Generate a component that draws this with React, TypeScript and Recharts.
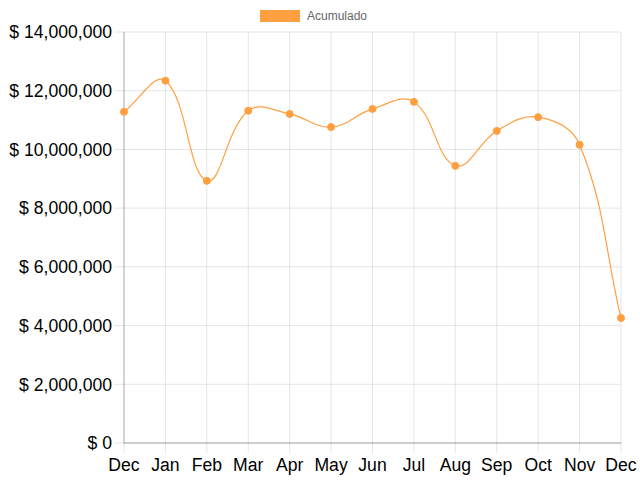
import React from 'react';
import {
  LineChart,
  Line,
  XAxis,
  YAxis,
  CartesianGrid,
  Legend,
} from 'recharts';

const months = ['Dec', 'Jan', 'Feb', 'Mar', 'Apr', 'May', 'Jun', 'Jul', 'Aug', 'Sep', 'Oct', 'Nov', 'Dec'];
const acumulado = [
  11280000, 12340000, 8930000, 11320000, 11210000, 10760000, 11380000,
  11620000, 9440000, 10630000, 11100000, 10160000, 4260000,
];
const yTicks = [0, 2000000, 4000000, 6000000, 8000000, 10000000, 12000000, 14000000];

const ORANGE = '#FF9F40';
const FONT = '"Liberation Sans", Arial, Helvetica, sans-serif';

const data = months.map((m, i) => ({ month: m, acumulado: acumulado[i] }));

// bezier spline like chart.js (tension 0.4)
const TENSION = 0.4;
function splineCurve(context: any) {
  let pts: number[][] = [];
  return {
    areaStart() {},
    areaEnd() {},
    lineStart() {
      pts = [];
    },
    lineEnd() {
      const n = pts.length;
      if (!n) return;
      context.moveTo(pts[0][0], pts[0][1]);
      if (n === 1) return;
      const cps = pts.map((p, i) => {
        const prev = pts[i - 1] || p;
        const next = pts[i + 1] || p;
        const d01 = Math.hypot(p[0] - prev[0], p[1] - prev[1]);
        const d12 = Math.hypot(next[0] - p[0], next[1] - p[1]);
        let s01 = d01 / (d01 + d12);
        let s12 = d12 / (d01 + d12);
        if (isNaN(s01)) s01 = 0;
        if (isNaN(s12)) s12 = 0;
        const fa = TENSION * s01;
        const fb = TENSION * s12;
        return {
          px: p[0] - fa * (next[0] - prev[0]),
          py: p[1] - fa * (next[1] - prev[1]),
          nx: p[0] + fb * (next[0] - prev[0]),
          ny: p[1] + fb * (next[1] - prev[1]),
        };
      });
      for (let i = 1; i < n; i++) {
        context.bezierCurveTo(cps[i - 1].nx, cps[i - 1].ny, cps[i].px, cps[i].py, pts[i][0], pts[i][1]);
      }
    },
    point(x: number, y: number) {
      pts.push([+x, +y]);
    },
  };
}

const renderLegend = () => (
  <div style={{ display: 'flex', alignItems: 'center', paddingLeft: 260, fontFamily: FONT, fontSize: 12, color: '#666' }}>
    <span style={{ display: 'inline-block', width: 40, height: 12, background: ORANGE, marginRight: 7 }} />
    <span>Acumulado</span>
  </div>
);

export default function App() {
  return (
    <div style={{ position: 'absolute', left: 0, top: 0, width: 640, height: 480, background: '#fff' }}>
      <LineChart
        width={640}
        height={480}
        data={data}
        margin={{ top: 32, right: 19, left: 0, bottom: 0 }}
      >
        <CartesianGrid stroke="rgba(0,0,0,0.1)" />
        <XAxis
          dataKey="month"
          height={37}
          interval={0}
          padding={{ left: 0, right: 0 }}
          tickSize={10}
          tickMargin={6}
          axisLine={{ stroke: 'rgba(0,0,0,0.3)' }}
          tickLine={{ stroke: 'rgba(0,0,0,0.1)' }}
          tick={{ fill: '#000', fontSize: 17.6, fontFamily: FONT }}
        />
        <YAxis
          width={124}
          domain={[0, 14000000]}
          ticks={yTicks}
          interval={0}
          tickSize={10}
          tickMargin={2}
          axisLine={{ stroke: 'rgba(0,0,0,0.25)' }}
          tickLine={{ stroke: 'rgba(0,0,0,0.1)' }}
          tick={{ fill: '#000', fontSize: 17.6, fontFamily: FONT }}
          tickFormatter={(v: number) => `$ ${v.toLocaleString('en-US')}`}
        />
        <Legend
          layout="horizontal"
          verticalAlign="middle"
          align="center"
          content={renderLegend}
          wrapperStyle={{ top: 9, left: 0, width: 640 }}
        />
        <Line
          dataKey="acumulado"
          name="Acumulado"
          type={splineCurve as any}
          stroke={ORANGE}
          strokeWidth={1.2}
          dot={{ r: 3.5, fill: ORANGE, stroke: ORANGE, strokeWidth: 1 }}
          isAnimationActive={false}
        />
      </LineChart>
    </div>
  );
}
